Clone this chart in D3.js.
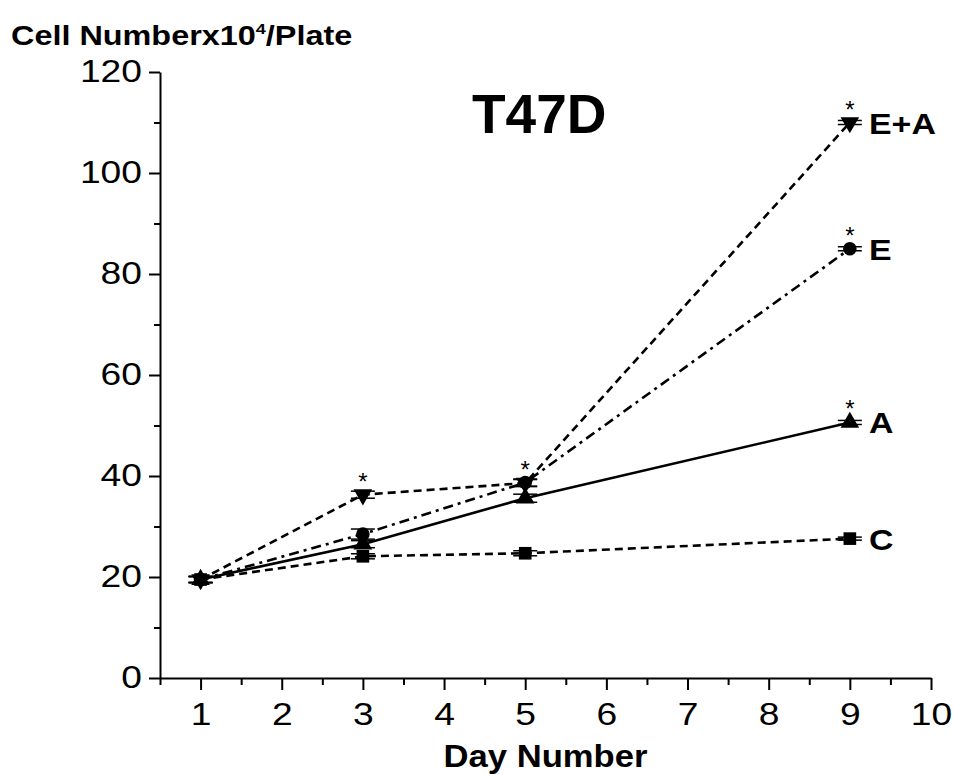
<!DOCTYPE html>
<html>
<head>
<meta charset="utf-8">
<script src="https://cdn.jsdelivr.net/npm/d3@7"></script>
<style>
  body { margin: 0; background: #fff; }
  text { font-family: "Liberation Sans", Arial, sans-serif; }
</style>
</head>
<body>
<div id="chart"></div>
<script>
// growth curves of T47D cells, four treatments

const days = [1, 3, 5, 9];
const seriesNames = ["C", "A", "E", "E+A"];
const valuesC = [19.5, 24.1, 24.7, 27.6];
const valuesA = [19.5, 26.5, 35.6, 50.6];
const valuesE = [19.5, 28.5, 38.7, 85.0];
const valuesEA = [19.5, 36.3, 38.6, 110.0];
const errC = [0.6, 0.5, 0.5, 0.3];
const errA = [0.6, 0.7, 0.8, 0.4];
const errE = [0.6, 1.0, 0.7, 0.4];
const errEA = [0.6, 0.7, 0.7, 0.4];
// which points carry a significance star
const starA = [false, false, false, true];
const starE = [false, false, false, true];
const starEA = [false, true, true, true];
const starC = [false, false, false, false];
const xTicks = [1, 2, 3, 4, 5, 6, 7, 8, 9, 10];
const yTicks = [0, 20, 40, 60, 80, 100, 120];

const width = 953, height = 774;
const stretch = 1.2; // the original lettering is a bit wide

const svg = d3.select("#chart").append("svg")
  .attr("width", width)
  .attr("height", height);

const x = d3.scaleLinear().domain([0.5, 10]).range([160, 931]);
const y = d3.scaleLinear().domain([0, 120]).range([678, 72]);

// ----- axes -----
const xAxis = d3.axisBottom(x).tickValues(xTicks).tickSize(12).tickSizeOuter(0).tickPadding(13);
const gx = svg.append("g").attr("transform", "translate(0," + y(0) + ")").call(xAxis);
gx.select(".domain").attr("stroke", "#000").attr("stroke-width", 2);
gx.selectAll(".tick line").attr("stroke-width", 2);
gx.selectAll(".tick text")
  .style("font-size", "31px")
  .attr("fill", "#000")
  .attr("transform", "scale(" + stretch + ",1)");

const xMinor = d3.axisBottom(x).tickValues(d3.range(0.5, 10, 1)).tickSize(7).tickFormat("");
const gxm = svg.append("g").attr("transform", "translate(0," + y(0) + ")").call(xMinor);
gxm.select(".domain").remove();
gxm.selectAll(".tick line").attr("stroke-width", 2);

const yAxis = d3.axisLeft(y).tickValues(yTicks).tickSize(11).tickSizeOuter(0).tickPadding(7);
const gy = svg.append("g").attr("transform", "translate(" + x(0.5) + ",0)").call(yAxis);
gy.select(".domain").attr("stroke", "#000").attr("stroke-width", 2);
gy.selectAll(".tick line").attr("stroke-width", 2);
gy.selectAll(".tick text")
  .style("font-size", "31px")
  .attr("fill", "#000")
  .attr("x", 0)
  .attr("transform", "translate(-18,0) scale(" + stretch + ",1)");

const yMinor = d3.axisLeft(y).tickValues(d3.range(10, 120, 20)).tickSize(6).tickFormat("");
const gym = svg.append("g").attr("transform", "translate(" + x(0.5) + ",0)").call(yMinor);
gym.select(".domain").remove();
gym.selectAll(".tick line").attr("stroke-width", 2);

// ----- titles -----
const yTitle = svg.append("text")
  .attr("transform", "translate(11,45) scale(" + stretch + ",1)")
  .style("font-size", "27px")
  .style("font-weight", "bold");
yTitle.append("tspan").text("Cell Numberx10");
yTitle.append("tspan").attr("dy", -11).style("font-size", "15px").text("4");
yTitle.append("tspan").attr("dy", 11).text("/Plate");

svg.append("text")
  .attr("x", (x.range()[0] + x.range()[1]) / 2)
  .attr("y", 767)
  .attr("text-anchor", "middle")
  .style("font-size", "32px")
  .style("font-weight", "bold")
  .attr("textLength", 204)
  .attr("lengthAdjust", "spacingAndGlyphs")
  .text("Day Number");

svg.append("text")
  .attr("x", 472)
  .attr("y", 133)
  .style("font-size", "55px")
  .style("font-weight", "bold")
  .text("T47D");

// ----- series -----
const series = [
  { name: "C", values: valuesC, err: errC, star: starC, dash: "8,5", symbol: d3.symbolSquare, rot: 0, size: 160 },
  { name: "A", values: valuesA, err: errA, star: starA, dash: null, symbol: d3.symbolTriangle, rot: 0, size: 150 },
  { name: "E", values: valuesE, err: errE, star: starE, dash: "10,5,3,5", symbol: d3.symbolCircle, rot: 0, size: 145 },
  { name: "E+A", values: valuesEA, err: errEA, star: starEA, dash: "8,5", symbol: d3.symbolTriangle, rot: 180, size: 150 }
];

const line = d3.line().x(d => x(d[0])).y(d => y(d[1]));

series.forEach(s => {
  const pts = days.map((d, i) => [d, s.values[i], s.err[i], s.star[i]]);
  const g = svg.append("g").attr("class", "series");

  g.append("path")
    .datum(pts)
    .attr("d", line)
    .attr("fill", "none")
    .attr("stroke", "#000")
    .attr("stroke-width", 2.6)
    .attr("stroke-dasharray", s.dash);

  // error bar caps
  pts.forEach(p => {
    [p[1] - p[2], p[1] + p[2]].forEach(v => {
      g.append("line")
        .attr("x1", x(p[0]) - 12)
        .attr("x2", x(p[0]) + 12)
        .attr("y1", y(v))
        .attr("y2", y(v))
        .attr("stroke", "#000")
        .attr("stroke-width", 1.5);
    });
    g.append("line")
      .attr("x1", x(p[0]))
      .attr("x2", x(p[0]))
      .attr("y1", y(p[1] - p[2]))
      .attr("y2", y(p[1] + p[2]))
      .attr("stroke", "#000")
      .attr("stroke-width", 1.5);
  });

  // markers
  g.selectAll(".pt")
    .data(pts)
    .enter()
    .append("path")
    .attr("d", d3.symbol().type(s.symbol).size(s.size))
    .attr("transform", d => "translate(" + x(d[0]) + "," + y(d[1]) + ") rotate(" + s.rot + ")")
    .attr("fill", "#000");

  // stars
  g.selectAll(".star")
    .data(pts.filter(p => p[3]))
    .enter()
    .append("text")
    .attr("x", d => x(d[0]))
    .attr("y", d => y(d[1]) - 5)
    .attr("text-anchor", "middle")
    .style("font-size", "24px")
    .text("*");

  // end label
  const last = pts[pts.length - 1];
  g.append("text")
    .attr("transform", "translate(869," + (y(last[1]) + 11) + ") scale(1.13,1)")
    .style("font-size", "30px")
    .style("font-weight", "bold")
    .text(s.name);
});
</script>
</body>
</html>
